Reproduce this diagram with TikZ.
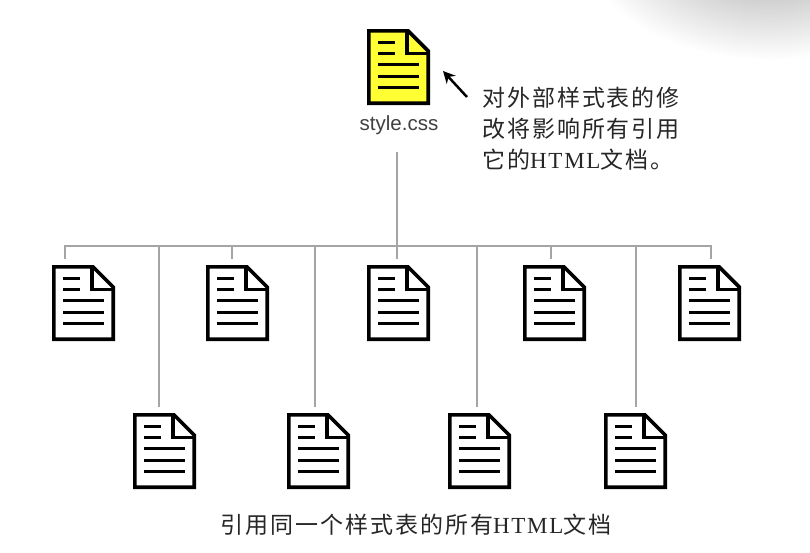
\documentclass[tikz,border=0pt]{standalone}
\usepackage{fontspec}
\setmainfont{Liberation Sans}
\newfontfamily\cjk[LetterSpace=8.5]{Noto Sans CJK SC}
\newfontfamily\latinpart[LetterSpace=7.5]{Liberation Serif}
\usetikzlibrary{arrows.meta}
\definecolor{docyellow}{RGB}{255,255,51}
\definecolor{treegray}{RGB}{165,165,165}
\tikzset{
	docbox/.style={minimum width=63pt, minimum height=76pt, inner sep=0pt, outer sep=0pt},
	docline/.style={line width=3pt},
	treeline/.style={line width=1.5pt, treegray},
	notetext/.style={font=\cjk\fontsize{23}{31}\selectfont, align=left, inner sep=0pt, text=black!85}
}
\newcommand{\htmltext}{{\latinpart HTML}}
% one page icon, #1 = node name, #2 = top left corner, #3 = fill
\newcommand{\docicon}[3]{
	\node[docbox, anchor=north west] (#1) at (#2) {};
	\begin{scope}[shift={(#1.north west)}]
		\draw[line width=3.6pt, fill=#3, miter limit=10] (1.8,1.8) -- (41,1.8) -- (61.2,22) -- (61.2,74.2) -- (1.8,74.2) -- cycle;
		\draw[line width=3.3pt] (40,1.8) -- (40,24.5) -- (61.2,24.5);
		\draw[docline] (11,13) -- (28,13);
		\draw[docline] (11,24) -- (28,24);
		\foreach \ypos in {35,47,58}{
			\draw[docline] (11,\ypos) -- (52,\ypos);
		}
	\end{scope}
}
\begin{document}
\begin{tikzpicture}[x=1pt, y=-1pt]
	\useasboundingbox (0,0) rectangle (810,552);
	% grey corner top right
	\begin{scope}
		\clip (0,0) rectangle (810,552);
		\shade[inner color=black!36, outer color=white, shading=radial] (580,-180) rectangle (960,60);
	\end{scope}

	\docicon{style}{367,29}{docyellow}
	\foreach \name/\xpos/\ypos in {
		top1/52/265, top2/206/265, top3/367/265, top4/523/265, top5/678/265,
		low1/133/413, low2/287/413, low3/448/413, low4/604/413%
	}{
		\docicon{\name}{\xpos,\ypos}{white}
	}

	\node[font=\fontsize{20.5}{24}\selectfont, text=black!75, inner sep=0pt] (stylelabel) at (399,125) {style.css};
	\node[notetext, anchor=west] (note) at (482,129) {对外部样式表的修\\改将影响所有引用\\它的\htmltext{}文档。};
	\node[notetext] (caption) at (416,525) {引用同一个样式表的所有\htmltext{}文档};

	\coordinate (arrowstart) at (467,97);
	\coordinate (arrowend) at (443,71);
	\draw[line width=2.5pt, -{Stealth[length=12pt,width=12pt]}] (arrowstart) -- (arrowend);

	% tree
	\coordinate (stem) at (397,152);
	\coordinate (busw) at (65,246);
	\coordinate (buse) at (711,246);
	\draw[treeline] (stem) -- (397,259);
	\draw[treeline] (65,259) -- (busw) -- (buse) -- (711,259);
	\foreach \xpos in {232,551}{
		\draw[treeline] (\xpos,246) -- (\xpos,259);
	}
	\foreach \xpos in {159,315,477,636}{
		\draw[treeline] (\xpos,246) -- (\xpos,407);
	}
\end{tikzpicture}
\end{document}
